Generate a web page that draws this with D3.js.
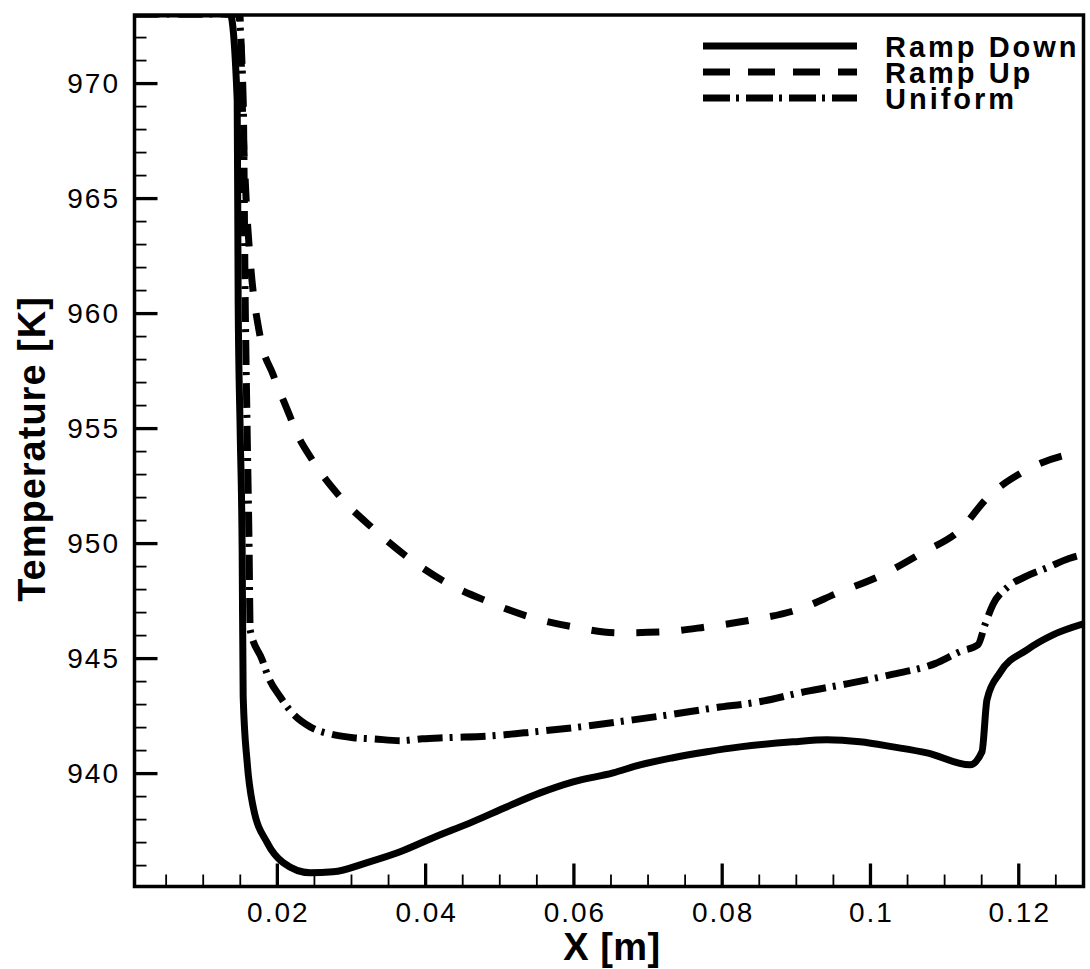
<!DOCTYPE html>
<html>
<head>
<meta charset="utf-8">
<script src="https://cdn.jsdelivr.net/npm/d3@7"></script>
<style>
  body { margin: 0; background: #fff; }
  text { font-family: "Liberation Sans", Arial, Helvetica, sans-serif; fill: #000; }
</style>
</head>
<body>
<div id="chart"></div>
<script>
// series: x [m], temperature [K]
var rampDownX = [0.0008, 0.0137, 0.01465, 0.01478, 0.01505, 0.01532, 0.01546, 0.0160, 0.0168, 0.01869, 0.02085, 0.02449, 0.02759, 0.03218, 0.03663, 0.04108, 0.04647, 0.05106, 0.05551, 0.05996, 0.06535, 0.06899, 0.07344, 0.07803, 0.08248, 0.08962, 0.09421, 0.09866, 0.10311, 0.10769, 0.11349, 0.11511, 0.11578, 0.11754, 0.12118, 0.12468, 0.1288];
var rampDownT = [973, 973, 969.27, 960.57, 954.92, 949.71, 943.32, 940.45, 938.54, 936.98, 936.11, 935.67, 935.71, 936.11, 936.58, 937.19, 937.89, 938.54, 939.14, 939.62, 940.01, 940.36, 940.67, 940.93, 941.14, 941.36, 941.45, 941.36, 941.14, 940.88, 940.36, 940.93, 943.19, 944.37, 945.36, 946.01, 946.49];

var rampUpX = [0.0008, 0.0150, 0.01532, 0.01586, 0.0164, 0.01775, 0.0195, 0.02179, 0.02247, 0.02476, 0.02853, 0.03285, 0.03757, 0.04269, 0.04822, 0.05402, 0.05995, 0.06602, 0.07209, 0.07802, 0.08423, 0.09019, 0.09571, 0.10165, 0.10704, 0.11217, 0.11594, 0.12066, 0.1266, 0.1288];
var rampUpT = [973, 973, 969.27, 964.93, 962.32, 958.97, 957.32, 955.49, 954.93, 953.62, 952.01, 950.67, 949.40, 948.31, 947.49, 946.80, 946.36, 946.10, 946.14, 946.36, 946.67, 947.10, 947.84, 948.62, 949.58, 950.58, 952.01, 953.10, 953.84, 953.97];

var uniformX = [0.0008, 0.0148, 0.01546, 0.01573, 0.01599, 0.01626, 0.0164, 0.01802, 0.01883, 0.02045, 0.02206, 0.02449, 0.02759, 0.03029, 0.03299, 0.03663, 0.03959, 0.04296, 0.04903, 0.05483, 0.0609, 0.06697, 0.07304, 0.0791, 0.08504, 0.09124, 0.09704, 0.10284, 0.10877, 0.11214, 0.11457, 0.11551, 0.11659, 0.11861, 0.12104, 0.12401, 0.12684, 0.1288];
var uniformT = [973, 973, 969.27, 960.57, 954.92, 949.71, 946.23, 944.93, 944.19, 943.32, 942.62, 942.01, 941.67, 941.54, 941.49, 941.41, 941.49, 941.54, 941.62, 941.80, 942.01, 942.27, 942.54, 942.84, 943.10, 943.54, 943.89, 944.28, 944.76, 945.28, 945.58, 946.45, 947.33, 948.10, 948.55, 948.94, 949.33, 949.51];

var seriesNames = ["Ramp Down", "Ramp Up", "Uniform"];

// ticks
var xMajor = [0.02, 0.04, 0.06, 0.08, 0.1, 0.12];
var xLabels = ["0.02", "0.04", "0.06", "0.08", "0.1", "0.12"];
var xMinor = [0.005, 0.01, 0.015, 0.025, 0.03, 0.035, 0.045, 0.05, 0.055, 0.065, 0.07, 0.075, 0.085, 0.09, 0.095, 0.105, 0.11, 0.115, 0.125];
var yMajor = [940, 945, 950, 955, 960, 965, 970];
var yMinor = [936, 937, 938, 939, 941, 942, 943, 944, 946, 947, 948, 949, 951, 952, 953, 954, 956, 957, 958, 959, 961, 962, 963, 964, 966, 967, 968, 969, 971, 972];

var W = 1090, H = 969;
var m = {left: 134.5, top: 15, right: 6.5, bottom: 82.5};
var w = W - m.left - m.right, h = H - m.top - m.bottom;

var svg = d3.select("#chart").append("svg")
    .attr("width", W)
    .attr("height", H);

var g = svg.append("g").attr("transform", "translate(" + m.left + "," + m.top + ")");

var x = d3.scaleLinear().domain([0.0008, 0.1288]).range([0, w]);
var y = d3.scaleLinear().domain([935.07, 972.96]).range([h, 0]);

g.append("clipPath").attr("id", "clip")
  .append("rect").attr("width", w).attr("height", h);

// minor ticks
g.append("g").attr("class", "minor")
    .call(d3.axisLeft(y).tickValues(yMinor).tickSize(-12).tickFormat(""));
g.append("g").attr("class", "minor")
    .attr("transform", "translate(0," + h + ")")
    .call(d3.axisBottom(x).tickValues(xMinor).tickSize(-12).tickFormat(""));

// major ticks + labels
var yAxis = g.append("g").attr("class", "major")
    .call(d3.axisLeft(y).tickValues(yMajor).tickSize(-23).tickPadding(14.5).tickFormat(d3.format("d")));
var xAxis = g.append("g").attr("class", "major")
    .attr("transform", "translate(0," + h + ")")
    .call(d3.axisBottom(x).tickValues(xMajor).tickSize(-23).tickPadding(15.5)
      .tickFormat(function(d, i) { return xLabels[i]; }));

g.selectAll(".domain").remove();
g.selectAll(".minor line").attr("stroke", "#000").attr("stroke-width", 1.8);
g.selectAll(".major line").attr("stroke", "#000").attr("stroke-width", 3.3);
g.selectAll(".major text")
    .style("font-size", "28px")
    .style("letter-spacing", "2px");
xAxis.selectAll("text").attr("dx", "1px");

// curves
var styles = [
  {dash: null},
  {dash: "23,22"},
  {dash: "25,7,3,8"}
];
var xs = [rampDownX, rampUpX, uniformX];
var ts = [rampDownT, rampUpT, uniformT];

var line = d3.line()
    .x(function(d) { return x(d[0]); })
    .y(function(d) { return y(d[1]); })
    .curve(d3.curveMonotoneX);

var curves = g.append("g").attr("clip-path", "url(#clip)");
xs.forEach(function(arr, i) {
  var pts = arr.map(function(v, j) { return [v, ts[i][j]]; });
  curves.append("path")
      .datum(pts)
      .attr("fill", "none")
      .attr("stroke", "#000")
      .attr("stroke-width", 7)
      .attr("stroke-dasharray", styles[i].dash)
      .attr("d", line);
});

// frame
g.append("rect")
    .attr("width", w)
    .attr("height", h)
    .attr("fill", "none")
    .attr("stroke", "#000")
    .attr("stroke-width", 3.5);

// axis titles
svg.append("text")
    .attr("x", 612)
    .attr("y", 960)
    .attr("text-anchor", "middle")
    .style("font-size", "38px")
    .style("font-weight", "bold")
    .style("letter-spacing", "0.5px")
    .text("X [m]");

svg.append("text")
    .attr("transform", "translate(45,449) rotate(-90)")
    .attr("text-anchor", "middle")
    .style("font-size", "38px")
    .style("font-weight", "bold")
    .style("letter-spacing", "1px")
    .text("Temperature [K]");

// legend
var legendDash = [null, "27,18", "27,6,3,7"];
var leg = svg.append("g").attr("transform", "translate(703,46)");
seriesNames.forEach(function(name, i) {
  var row = leg.append("g").attr("transform", "translate(0," + (i * 26) + ")");
  row.append("line")
      .attr("x1", 0).attr("x2", 154)
      .attr("stroke", "#000")
      .attr("stroke-width", 7)
      .attr("stroke-dasharray", legendDash[i]);
  row.append("text")
      .attr("x", 182)
      .attr("y", 10.5)
      .style("font-size", "29px")
      .style("font-weight", "bold")
      .style("letter-spacing", "3px")
      .text(name);
});
</script>
</body>
</html>
